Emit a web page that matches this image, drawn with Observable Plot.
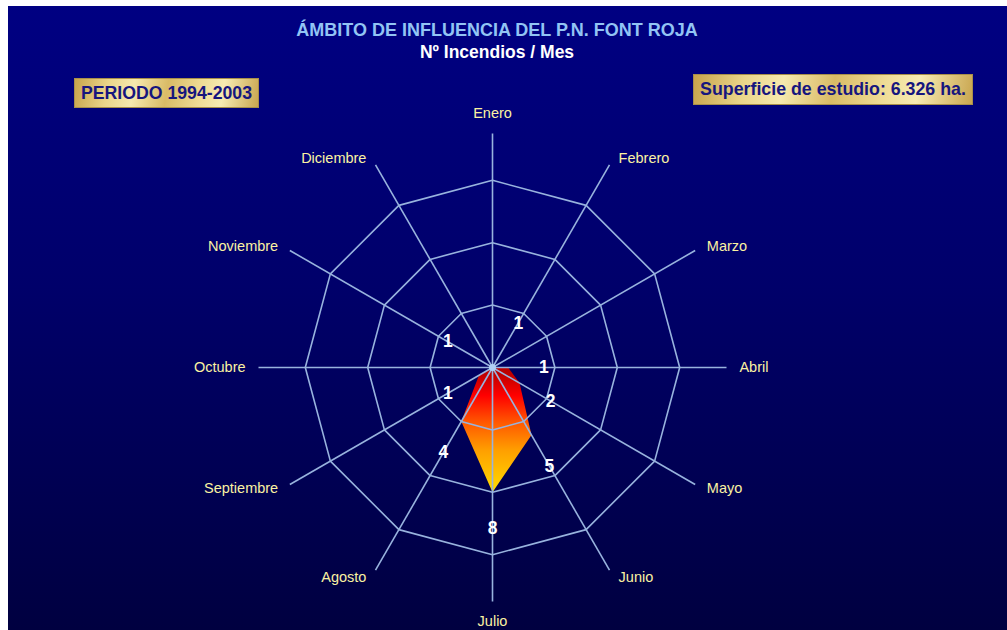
<!DOCTYPE html>
<html>
<head>
<meta charset="utf-8">
<script src="https://cdn.jsdelivr.net/npm/d3@7"></script>
<script src="https://cdn.jsdelivr.net/npm/@observablehq/plot@0.6"></script>
<style>
  html, body { margin: 0; padding: 0; background: #ffffff; }
  body { width: 1007px; height: 630px; position: relative; overflow: hidden; font-family: "Liberation Sans", Arial, sans-serif; }
  #panel { position: absolute; left: 8px; top: 6px; width: 999px; height: 624px;
           background: linear-gradient(to bottom, #000082 0%, #00006a 45%, #000040 100%); overflow: hidden; }
  #chart { position: absolute; left: 0; top: 0; }
  .title { position: absolute; left: 0; width: 978px; text-align: center; font-weight: bold; white-space: nowrap; }
  #t1 { top: 13px; font-size: 18px; line-height: 22px; color: #92c4f4; }
  #t2 { top: 35px; font-size: 17.5px; line-height: 22px; color: #ffffff; }
  .box { position: absolute; box-sizing: border-box; font-weight: bold; color: #16167e; text-align: center; white-space: nowrap;
         border: 1px solid #a88f4a;
         background: linear-gradient(100deg, #c8a44c 0%, #ead58a 18%, #f6e9ae 32%, #d9bb66 50%, #efdc96 68%, #f7ebb2 80%, #c9a650 100%); }
  #b1 { left: 66px; top: 72px; width: 185px; height: 30px; font-size: 17.7px; line-height: 28px; }
  #b2 { left: 685px; top: 68px; width: 280px; height: 31px; font-size: 17.8px; line-height: 29px; }
</style>
</head>
<body>
<div id="panel">
  <div id="chart"></div>
  <div class="title" id="t1">ÁMBITO DE INFLUENCIA DEL P.N. FONT ROJA</div>
  <div class="title" id="t2">Nº Incendios / Mes</div>
  <div class="box" id="b1">PERIODO 1994-2003</div>
  <div class="box" id="b2">Superficie de estudio: 6.326 ha.</div>
</div>
<script>
// ---- data ----
const months = ["Enero","Febrero","Marzo","Abril","Mayo","Junio","Julio","Agosto","Septiembre","Octubre","Noviembre","Diciembre"];
const fires = [0, 1, 0, 1, 2, 5, 8, 4, 1, 0, 1, 0];
const rings = [4, 8, 12];
const axisMax = 15;

// ---- helpers ----
const ang = i => i * Math.PI / 6;
const px = (i, r) => r * Math.sin(ang(i));
const py = (i, r) => r * Math.cos(ang(i));

const ringData = rings.flatMap(r => d3.range(13).map(k => ({ring: r, x: px(k % 12, r), y: py(k % 12, r)})));
const spokes = months.map((m, i) => ({x2: px(i, axisMax), y2: py(i, axisMax)}));
const firePoly = d3.range(13).map(k => ({x: px(k % 12, fires[k % 12]), y: py(k % 12, fires[k % 12])}));

const labelPos = months.map((m, i) => {
  const s = Math.sin(ang(i)), c = Math.cos(ang(i));
  if (Math.abs(s) < 1e-6) return {name: m, x: 0, y: py(i, 16.3), anchor: "middle"};
  const sg = Math.sign(s);
  return {name: m, x: px(i, axisMax) + sg * (0.5 + 0.33 * s * s), y: py(i, axisMax) + 0.5 * c, anchor: sg > 0 ? "start" : "end"};
});
const valueLabels = fires.map((v, i) => ({v, x: px(i, v + 2.3), y: py(i, v + 2.3)})).filter(d => d.v > 0);

const grid = "#98b3de";
const labelColor = "#faf2a2";
const unit = 15.6, cx = 484, cy = 361, R = 16;

const textMark = anchor => Plot.text(labelPos.filter(d => d.anchor === anchor), {
  x: "x", y: "y", text: "name", textAnchor: anchor, fill: labelColor, fontSize: 14.5
});

const svg = Plot.plot({
  width: 999, height: 624,
  margin: 0,
  style: {background: "transparent", fontFamily: "'Liberation Sans', Arial, sans-serif"},
  x: {domain: [-R, R], range: [cx - R * unit, cx + R * unit], axis: null},
  y: {domain: [-R, R], range: [cy + R * unit, cy - R * unit], axis: null},
  marks: [
    Plot.line(firePoly, {x: "x", y: "y", fill: "url(#fireGrad)", stroke: "none", curve: "linear-closed"}),
    Plot.line(ringData, {x: "x", y: "y", z: "ring", stroke: grid, strokeWidth: 1.6}),
    Plot.link(spokes, {x1: () => 0, y1: () => 0, x2: "x2", y2: "y2", stroke: grid, strokeWidth: 1.6}),
    Plot.dot([{x: 0, y: 0}], {x: "x", y: "y", r: 3.5, fill: "#b0d0f4", stroke: "none"}),
    textMark("start"), textMark("end"), textMark("middle"),
    Plot.text(valueLabels, {x: "x", y: "y", text: d => String(d.v), fill: "#ffffff", fontWeight: "bold", fontSize: 17.5})
  ]
});

const defs = d3.select(svg).insert("defs", ":first-child");
const lg = defs.append("linearGradient").attr("id", "fireGrad").attr("x1", 0).attr("y1", 0).attr("x2", 0).attr("y2", 1);
[[0, "#a00000"], [0.15, "#c00000"], [0.3, "#ff0000"], [0.5, "#ff5a00"], [0.7, "#ffa000"], [0.9, "#ffc800"], [1, "#ffe000"]]
  .forEach(([o, c]) => lg.append("stop").attr("offset", o).attr("stop-color", c));

document.getElementById("chart").appendChild(svg);
</script>
</body>
</html>
